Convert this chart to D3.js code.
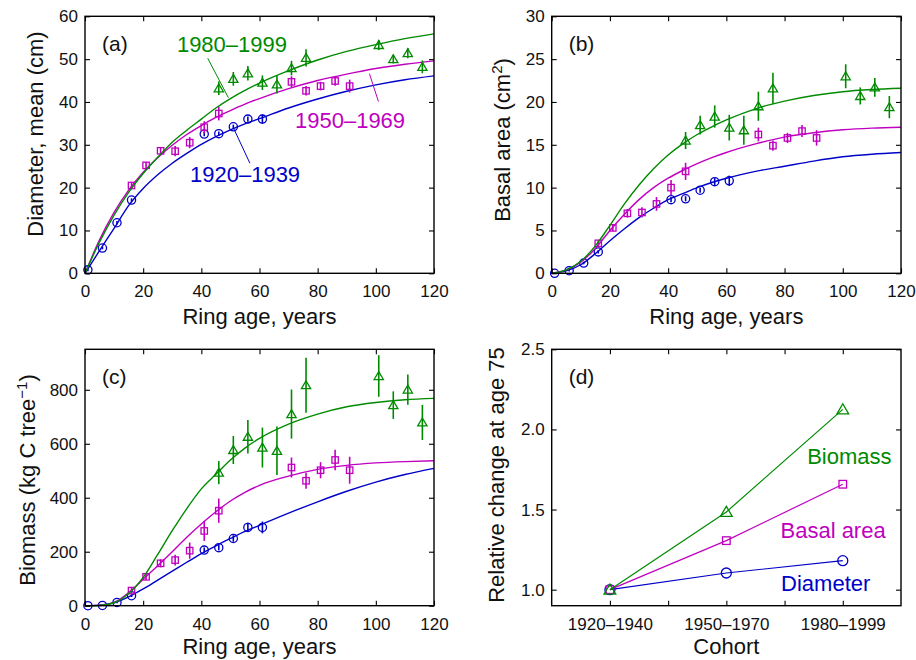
<!DOCTYPE html>
<html>
<head>
<meta charset="utf-8">
<script src="https://cdn.jsdelivr.net/npm/d3@7"></script>
<style>
  body { margin: 0; background: #fff; }
  svg { display: block; font-family: "Liberation Sans", Arial, sans-serif; }
</style>
</head>
<body>
<svg id="chart" width="916" height="660"></svg>
<script>
/*
 *  Data
 */
// ring ages sampled for each cohort
var age1920 = [1, 6, 11, 16, 41, 46, 51, 56, 61];
var age1950 = [16, 21, 26, 31, 36, 41, 46, 71, 76, 81, 86, 91];
var age1980 = [46, 51, 56, 61, 66, 71, 76, 101, 106, 111, 116];

// (a) mean diameter, cm
var diam1920 = [0.8, 5.9, 11.8, 17.1, 32.5, 32.6, 34.2, 36.0, 36.0];
var diamErr1920 = [0.3, 0.3, 0.4, 0.4, 0.5, 0.5, 0.5, 0.6, 1.1];
var diam1950 = [20.5, 25.2, 28.6, 28.5, 30.5, 34.1, 37.3, 44.7, 42.6, 43.7, 44.9, 43.7];
var diamErr1950 = [0.6, 0.8, 0.9, 1.2, 1.3, 1.4, 1.6, 1.3, 1.1, 1.0, 1.1, 1.5];
var diam1980 = [43.2, 45.4, 46.7, 44.5, 44.1, 47.9, 50.3, 53.3, 50.0, 51.4, 48.2];
var diamErr1980 = [1.6, 1.6, 1.7, 1.7, 2.1, 1.7, 2.0, 1.2, 1.0, 1.2, 1.5];

// (b) basal area, cm2
var basal1920 = [0.0, 0.3, 1.2, 2.5, 8.6, 8.7, 9.7, 10.7, 10.8];
var basalErr1920 = [0.05, 0.1, 0.15, 0.2, 0.3, 0.3, 0.3, 0.4, 0.6];
var basal1950 = [3.5, 5.3, 7.0, 7.1, 8.1, 10.0, 11.9, 16.2, 14.9, 15.8, 16.6, 15.8];
var basalErr1950 = [0.3, 0.4, 0.5, 0.6, 0.8, 0.9, 1.0, 0.8, 0.6, 0.6, 0.7, 0.9];
var basal1980 = [15.5, 17.3, 18.3, 17.0, 16.7, 19.5, 21.6, 23.0, 20.7, 21.7, 19.4];
var basalErr1980 = [1.0, 1.1, 1.3, 1.5, 1.7, 1.7, 1.8, 1.4, 1.0, 1.1, 1.3];

// (c) biomass, kg C per tree
var bio1920 = [0, 1, 12, 37, 206, 215, 249, 290, 290];
var bioErr1920 = [1, 1, 3, 5, 10, 10, 12, 17, 22];
var bio1950 = [56, 107, 157, 169, 204, 277, 352, 512, 463, 502, 540, 502];
var bioErr1950 = [10, 12, 15, 20, 30, 37, 45, 37, 30, 30, 38, 50];
var bio1980 = [493, 577, 626, 586, 574, 710, 817, 851, 743, 801, 679];
var bioErr1980 = [43, 52, 62, 74, 90, 91, 102, 77, 51, 56, 65];

// fitted growth curves, read at these ages
var fitAge = [0, 5, 10, 15, 20, 25, 30, 35, 40, 45, 50, 55, 60, 70, 80, 90, 100, 110, 120];
var diamFit1920 = [0, 5.3, 10.5, 15.8, 19.8, 23.0, 25.7, 28.0, 30.1, 31.9, 33.5, 34.9, 36.1, 38.6, 40.7, 42.5, 44.0, 45.2, 46.1];
var diamFit1950 = [0, 7.8, 14.2, 19.4, 23.6, 27.0, 29.9, 32.4, 34.5, 36.4, 38.0, 39.5, 40.8, 43.1, 45.0, 46.5, 47.8, 48.8, 49.6];
var diamFit1980 = [0, 7.3, 13.6, 18.9, 23.3, 27.1, 30.6, 33.4, 36.0, 38.6, 40.8, 42.7, 44.4, 47.3, 49.8, 51.8, 53.4, 54.8, 55.9];
var basalFit1920 = [0, 0.3, 1.0, 2.3, 3.8, 5.2, 6.5, 7.6, 8.6, 9.3, 10.0, 10.6, 11.1, 11.9, 12.5, 13.1, 13.6, 13.9, 14.1];
var basalFit1950 = [0, 0.4, 1.3, 2.9, 5.0, 6.9, 8.6, 10.0, 11.1, 12.0, 12.8, 13.5, 14.1, 15.1, 15.9, 16.4, 16.75, 16.95, 17.05];
var basalFit1980 = [0, 0.4, 1.4, 3.2, 5.6, 8.1, 10.3, 12.2, 13.8, 15.1, 16.2, 17.1, 17.9, 19.2, 20.1, 20.75, 21.2, 21.45, 21.6];
var bioFit1920 = [0, 2, 11, 33, 62, 95, 128, 161, 193, 222, 249, 275, 298, 343, 385, 424, 458, 486, 509];
var bioFit1950 = [0, 2, 12, 48, 98, 148, 200, 254, 303, 348, 388, 420, 446, 480, 505, 520, 529, 534, 537];
var bioFit1980 = [0, 1, 11, 45, 105, 190, 278, 360, 433, 487, 540, 584, 620, 673, 710, 737, 753, 763, 768];

// (d) relative change at age 75
var cohorts = ["1920\u20131940", "1950\u20131970", "1980\u20131999"];
var relBiomass = [1.0, 1.485, 2.125];
var relBasal = [1.0, 1.306, 1.658];
var relDiam = [1.0, 1.104, 1.181];

var ageTicks = [0, 20, 40, 60, 80, 100, 120];

/*
 *  Styling
 */
var blue = "#0000c8", magenta = "#c000c0", green = "#008a00";
var tickFont = 17, labelFont = 22;

var svg = d3.select("#chart");

// the four axes boxes, in pixels
var boxA = {l: 85, r: 434, t: 16.3, b: 273.3},
    boxB = {l: 551.7, r: 901, t: 16.3, b: 273.3},
    boxC = {l: 85, r: 434, t: 349.3, b: 605.7},
    boxD = {l: 551.7, r: 901, t: 349.3, b: 605.7};

// draw a marker of a given shape centred on (cx, cy)
function marker(g, shape, cx, cy, s, color) {
  if(shape == "circle") {
    g.append("circle").attr("cx", cx).attr("cy", cy).attr("r", s)
      .attr("fill", "none").attr("stroke", color).attr("stroke-width", 1.3);
  } else if(shape == "square") {
    g.append("rect").attr("x", cx - s).attr("y", cy - s)
      .attr("width", 2*s).attr("height", 2*s)
      .attr("fill", "none").attr("stroke", color).attr("stroke-width", 1.3);
  } else {
    g.append("path")
      .attr("d", "M" + cx + "," + (cy - s) + "L" + (cx + s*1.05) + "," + (cy + s*0.8) +
                 "L" + (cx - s*1.05) + "," + (cy + s*0.8) + "Z")
      .attr("fill", "none").attr("stroke", color).attr("stroke-width", 1.3);
  }
}

// frame with inward ticks on all four sides, and the tick labels
function drawAxes(g, box, x, y, xTicks, yTicks, xFmt, yFmt) {
  g.append("g").attr("transform", "translate(0," + box.b + ")")
    .call(d3.axisBottom(x).tickValues(xTicks).tickSize(-5).tickPadding(12).tickFormat(xFmt));
  g.append("g").attr("transform", "translate(0," + box.t + ")")
    .call(d3.axisTop(x).tickValues(xTicks).tickSize(-5).tickFormat(""));
  g.append("g").attr("transform", "translate(" + box.l + ",0)")
    .call(d3.axisLeft(y).tickValues(yTicks).tickSize(-5).tickPadding(7).tickFormat(yFmt));
  g.append("g").attr("transform", "translate(" + box.r + ",0)")
    .call(d3.axisRight(y).tickValues(yTicks).tickSize(-5).tickFormat(""));

  g.selectAll(".domain").remove();
  g.selectAll(".tick line").attr("stroke", "#000").attr("stroke-width", 1.1);
  g.selectAll(".tick text").attr("fill", "#111").style("font-size", tickFont + "px")
    .style("font-family", "'Liberation Sans', Arial, sans-serif");

  g.append("rect")
    .attr("x", box.l).attr("y", box.t)
    .attr("width", box.r - box.l).attr("height", box.b - box.t)
    .attr("fill", "none").attr("stroke", "#000").attr("stroke-width", 1.4);
}

function yLabel(g, xPos, yPos, parts) {
  var t = g.append("text")
    .attr("transform", "translate(" + xPos + "," + yPos + ") rotate(-90)")
    .attr("text-anchor", "middle")
    .style("font-size", labelFont + "px").attr("fill", "#111");
  parts.forEach(function(p) {
    var ts = t.append("tspan").text(p.text);
    if(p.dy) ts.attr("dy", p.dy);
    if(p.size) ts.style("font-size", p.size + "px");
  });
}

// bottom row sits closer to its axis so the descenders stay on the page
function xLabel(g, box, text) {
  var gap = box.b > 400 ? 48 : 51;
  g.append("text")
    .attr("x", (box.l + box.r)/2).attr("y", box.b + gap)
    .attr("text-anchor", "middle")
    .style("font-size", labelFont + "px").attr("fill", "#111")
    .text(text);
}

function panelTag(g, box, tag) {
  g.append("text").attr("x", box.l + 17).attr("y", box.t + 35)
    .style("font-size", "21px").attr("fill", "#111").text(tag);
}

// one growth panel: fitted curves, error bars and markers for three cohorts
function growthPanel(box, yMax, yTicks, series, tag) {
  var g = svg.append("g");
  var x = d3.scaleLinear().domain([0, 120]).range([box.l, box.r]);
  var y = d3.scaleLinear().domain([0, yMax]).range([box.b, box.t]);

  var line = d3.line()
    .x(function(d) { return x(d[0]); })
    .y(function(d) { return y(d[1]); })
    .curve(d3.curveMonotoneX);

  series.forEach(function(s) {
    var fit = fitAge.map(function(a, i) { return [a, s.fit[i]]; });
    g.append("path").datum(fit).attr("d", line)
      .attr("fill", "none").attr("stroke", s.color).attr("stroke-width", 1.4);

    for(var i = 0; i < s.age.length; i++) {
      g.append("line")
        .attr("x1", x(s.age[i])).attr("x2", x(s.age[i]))
        .attr("y1", y(s.val[i] - s.err[i])).attr("y2", y(s.val[i] + s.err[i]))
        .attr("stroke", s.color).attr("stroke-width", 1.6);
      var size = s.shape == "square" ? 3.2 : (s.shape == "circle" ? 4.1 : 4.4);
      marker(g, s.shape, x(s.age[i]), y(s.val[i]), size, s.color);
    }
  });

  drawAxes(g, box, x, y, ageTicks, yTicks, d3.format("d"), d3.format("d"));
  panelTag(g, box, tag);
  xLabel(g, box, "Ring age, years");
  return {g: g, x: x, y: y};
}

/*
 *  (a) diameter
 */
var pa = growthPanel(boxA, 60, [0, 10, 20, 30, 40, 50, 60], [
  {age: age1920, val: diam1920, err: diamErr1920, fit: diamFit1920, color: blue, shape: "circle"},
  {age: age1950, val: diam1950, err: diamErr1950, fit: diamFit1950, color: magenta, shape: "square"},
  {age: age1980, val: diam1980, err: diamErr1980, fit: diamFit1980, color: green, shape: "triangle"}
], "(a)");
yLabel(pa.g, 43, 134, [{text: "Diameter, mean (cm)"}]);

// cohort labels with pointer lines
var cohortNotes = [
  {text: "1980\u20131999", color: green, at: [31.6, 51.7], from: [42.2, 50.2], to: [49.3, 41.0]},
  {text: "1950\u20131969", color: magenta, at: [72.2, 33.9], from: [100.9, 40.1], to: [97.8, 46.6]},
  {text: "1920\u20131939", color: blue, at: [36.1, 21.3], from: [56.7, 25.7], to: [51.0, 34.0]}
];
cohortNotes.forEach(function(n) {
  pa.g.append("line")
    .attr("x1", pa.x(n.from[0])).attr("y1", pa.y(n.from[1]))
    .attr("x2", pa.x(n.to[0])).attr("y2", pa.y(n.to[1]))
    .attr("stroke", n.color).attr("stroke-width", 1);
  pa.g.append("text")
    .attr("x", pa.x(n.at[0])).attr("y", pa.y(n.at[1]))
    .style("font-size", "22px").attr("fill", n.color).text(n.text);
});

/*
 *  (b) basal area
 */
var pb = growthPanel(boxB, 30, [0, 5, 10, 15, 20, 25, 30], [
  {age: age1920, val: basal1920, err: basalErr1920, fit: basalFit1920, color: blue, shape: "circle"},
  {age: age1950, val: basal1950, err: basalErr1950, fit: basalFit1950, color: magenta, shape: "square"},
  {age: age1980, val: basal1980, err: basalErr1980, fit: basalFit1980, color: green, shape: "triangle"}
], "(b)");
yLabel(pb.g, 510, 140, [
  {text: "Basal area (cm"}, {text: "2", dy: -8, size: 15}, {text: ")", dy: 8}
]);

/*
 *  (c) biomass
 */
var pc = growthPanel(boxC, 950, [0, 200, 400, 600, 800], [
  {age: age1920, val: bio1920, err: bioErr1920, fit: bioFit1920, color: blue, shape: "circle"},
  {age: age1950, val: bio1950, err: bioErr1950, fit: bioFit1950, color: magenta, shape: "square"},
  {age: age1980, val: bio1980, err: bioErr1980, fit: bioFit1980, color: green, shape: "triangle"}
], "(c)");
yLabel(pc.g, 35, 480, [
  {text: "Biomass (kg C tree"}, {text: "\u22121", dy: -8, size: 15}, {text: ")", dy: 8}
]);

/*
 *  (d) relative change by cohort
 */
var gd = svg.append("g");
var xd = d3.scaleLinear().domain([0.5, 3.5]).range([boxD.l, boxD.r]);
var yd = d3.scaleLinear().domain([0.9, 2.5]).range([boxD.b, boxD.t]);
var lineD = d3.line()
  .x(function(d, i) { return xd(i + 1); })
  .y(function(d) { return yd(d); });

var relSeries = [
  {val: relDiam, color: blue, shape: "circle", size: 5},
  {val: relBasal, color: magenta, shape: "square", size: 3.8},
  {val: relBiomass, color: green, shape: "triangle", size: 5.6}
];
relSeries.forEach(function(s) {
  gd.append("path").datum(s.val).attr("d", lineD)
    .attr("fill", "none").attr("stroke", s.color).attr("stroke-width", 1.2);
  s.val.forEach(function(v, i) {
    marker(gd, s.shape, xd(i + 1), yd(v), s.size, s.color);
  });
});

drawAxes(gd, boxD, xd, yd, [1, 1.5, 2, 2.5, 3], [1, 1.5, 2, 2.5],
  function(d) { return d % 1 == 0 ? cohorts[d - 1] : ""; }, d3.format(".1f"));
panelTag(gd, boxD, "(d)");
xLabel(gd, boxD, "Cohort");
yLabel(gd, 504, 475, [{text: "Relative change at age 75"}]);

var relNotes = [
  {text: "Biomass", color: green, at: [2.694, 1.783]},
  {text: "Basal area", color: magenta, at: [2.465, 1.321]},
  {text: "Diameter", color: blue, at: [2.47, 0.99]}
];
relNotes.forEach(function(n) {
  gd.append("text").attr("x", xd(n.at[0])).attr("y", yd(n.at[1]))
    .style("font-size", labelFont + "px").attr("fill", n.color).text(n.text);
});
</script>
</body>
</html>
